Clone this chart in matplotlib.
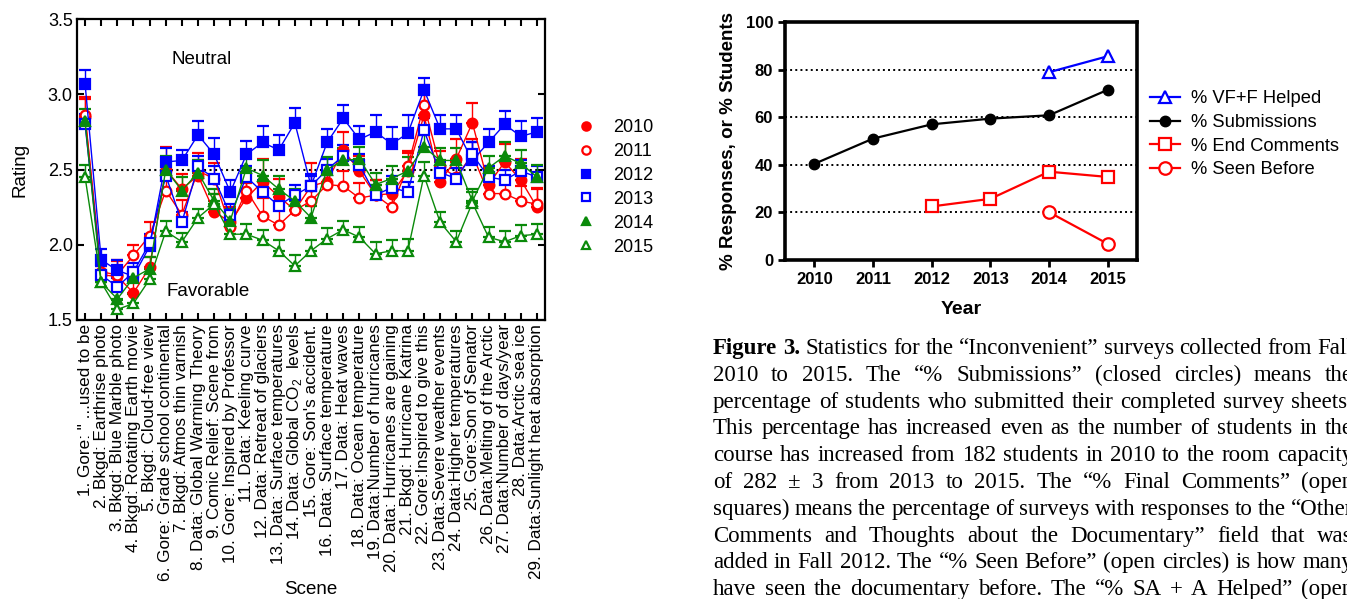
import numpy as np
import matplotlib
matplotlib.use("Agg")
import matplotlib.pyplot as plt
from matplotlib.lines import Line2D

plt.rcParams['font.family'] = ['Liberation Sans', 'DejaVu Sans']
plt.rcParams['mathtext.fontset'] = 'custom'
plt.rcParams['mathtext.rm'] = 'Liberation Sans'

W, H = 1347, 599

# ---- left panel: scene ratings by year ----
scenes = [
    '1. Gore: " ...used to be', '2. Bkgd: Earthrise photo', '3. Bkgd: Blue Marble photo',
    '4. Bkgd: Rotating Earth movie', '5. Bkgd: Cloud-free view', '6. Gore: Grade school continental',
    '7. Bkgd: Atmos thin varnish', '8. Data: Global Warming Theory', '9. Comic Relief: Scene from',
    '10. Gore: Inspired by Professor', '11. Data: Keeling curve', '12. Data: Retreat of glaciers',
    '13. Data: Surface temperatures', '14. Data: Global CO$_2$  levels', "15. Gore: Son's accident.",
    '16. Data: Surface temperature', '17. Data: Heat waves', '18. Data: Ocean temperature',
    '19. Data:Number of hurricanes', '20. Data: Hurricanes are gaining', '21. Bkgd: Hurricane Katrina',
    '22. Gore:Inspired to give this', '23. Data:Severe weather events', '24. Data:Higher temperatures',
    '25. Gore:Son of Senator', '26. Data:Melting of the Arctic', '27. Data:Number of days/year',
    '28. Data:Arctic sea ice', '29. Data:Sunlight heat absorption',
]

r2010 = [2.85, 1.80, 1.79, 1.68, 1.85, 2.50, 2.37, 2.46, 2.22, 2.15, 2.31, 2.42, 2.32, 2.23, 2.39,
         2.42, 2.63, 2.49, 2.33, 2.34, 2.49, 2.86, 2.42, 2.57, 2.81, 2.40, 2.55, 2.43, 2.25]
r2011 = [2.86, 1.82, 1.80, 1.93, 2.06, 2.36, 2.20, 2.49, 2.44, 2.12, 2.36, 2.19, 2.13, 2.23, 2.29,
         2.40, 2.39, 2.31, 2.33, 2.25, 2.52, 2.93, 2.52, 2.45, 2.60, 2.34, 2.34, 2.29, 2.27]
r2012 = [3.07, 1.90, 1.83, 1.79, 1.99, 2.55, 2.56, 2.73, 2.60, 2.35, 2.60, 2.68, 2.63, 2.81, 2.39,
         2.68, 2.84, 2.70, 2.75, 2.67, 2.74, 3.03, 2.77, 2.77, 2.56, 2.68, 2.80, 2.72, 2.75]
r2013 = [2.80, 1.80, 1.72, 1.82, 2.01, 2.46, 2.15, 2.52, 2.44, 2.20, 2.45, 2.35, 2.26, 2.33, 2.39,
         2.50, 2.59, 2.53, 2.33, 2.38, 2.35, 2.76, 2.48, 2.44, 2.60, 2.45, 2.43, 2.49, 2.45]
r2014 = [2.82, 1.75, 1.64, 1.78, 1.84, 2.50, 2.36, 2.48, 2.29, 2.16, 2.51, 2.46, 2.37, 2.29, 2.18,
         2.50, 2.56, 2.57, 2.40, 2.44, 2.49, 2.65, 2.56, 2.56, 2.29, 2.51, 2.59, 2.54, 2.45]
r2015 = [2.45, 1.75, 1.57, 1.61, 1.77, 2.09, 2.02, 2.18, 2.27, 2.07, 2.07, 2.03, 1.96, 1.86, 1.96,
         2.04, 2.10, 2.05, 1.94, 1.96, 1.96, 2.46, 2.15, 2.02, 2.28, 2.05, 2.02, 2.06, 2.07]

# upper error bars
e2010 = [0.13, 0.06, 0.10, 0.07, 0.07, 0.15, 0.10, 0.10, 0.12, 0.10, 0.10, 0.15, 0.12, 0.10, 0.15,
         0.10, 0.12, 0.10, 0.10, 0.10, 0.12, 0.20, 0.10, 0.13, 0.13, 0.12, 0.12, 0.14, 0.13]
e2011 = [0.11, 0.07, 0.10, 0.07, 0.09, 0.10, 0.10, 0.12, 0.10, 0.12, 0.10, 0.12, 0.10, 0.10, 0.10,
         0.10, 0.10, 0.10, 0.10, 0.10, 0.10, 0.12, 0.10, 0.10, 0.10, 0.10, 0.10, 0.10, 0.10]
e2012 = [0.09, 0.07, 0.07, 0.05, 0.05, 0.09, 0.07, 0.09, 0.11, 0.08, 0.09, 0.11, 0.10, 0.10, 0.08,
         0.09, 0.09, 0.09, 0.11, 0.11, 0.12, 0.08, 0.09, 0.09, 0.12, 0.09, 0.09, 0.10, 0.09]
e2013 = [0.07, 0.06, 0.06, 0.06, 0.06, 0.08, 0.07, 0.07, 0.08, 0.07, 0.07, 0.08, 0.08, 0.07, 0.07,
         0.07, 0.07, 0.07, 0.07, 0.08, 0.07, 0.08, 0.07, 0.07, 0.08, 0.07, 0.07, 0.07, 0.07]
e2014 = [0.08, 0.06, 0.07, 0.07, 0.08, 0.09, 0.09, 0.08, 0.08, 0.08, 0.08, 0.10, 0.09, 0.08, 0.08,
         0.08, 0.08, 0.08, 0.08, 0.08, 0.09, 0.08, 0.08, 0.08, 0.08, 0.08, 0.09, 0.09, 0.08]
e2015 = [0.08, 0.06, 0.06, 0.06, 0.07, 0.07, 0.06, 0.06, 0.07, 0.06, 0.07, 0.07, 0.07, 0.07, 0.07,
         0.07, 0.06, 0.07, 0.08, 0.07, 0.08, 0.09, 0.07, 0.07, 0.07, 0.07, 0.07, 0.07, 0.07]

RED, BLUE, GREEN = '#ff0000', '#0000ff', '#0a8a0a'
series = [
    ('2010', r2010, e2010, RED, 'o', True),
    ('2011', r2011, e2011, RED, 'o', False),
    ('2012', r2012, e2012, BLUE, 's', True),
    ('2013', r2013, e2013, BLUE, 's', False),
    ('2014', r2014, e2014, GREEN, '^', True),
    ('2015', r2015, e2015, GREEN, '^', False),
]

# ---- right panel: survey statistics ----
years = [2010, 2011, 2012, 2013, 2014, 2015]
submissions = [40.4, 51.0, 57.0, 59.4, 60.8, 71.5]
helped_years = [2014, 2015]
helped = [78.9, 85.6]
comment_years = [2012, 2013, 2014, 2015]
end_comments = [22.5, 25.7, 37.1, 34.9]
seen_years = [2014, 2015]
seen_before = [20.1, 6.8]

caption_lines = [
    "Figure 3. Statistics for the \u201cInconvenient\u201d surveys collected from Fall",
    "2010 to 2015. The \u201c% Submissions\u201d (closed circles) means the",
    "percentage of students who submitted their completed survey sheets.",
    "This percentage has increased even as the number of students in the",
    "course has increased from 182 students in 2010 to the room capacity",
    "of 282 \u00b1 3 from 2013 to 2015. The \u201c% Final Comments\u201d (open",
    "squares) means the percentage of surveys with responses to the \u201cOther",
    "Comments and Thoughts about the Documentary\u201d field that was",
    "added in Fall 2012. The \u201c% Seen Before\u201d (open circles) is how many",
    "have seen the documentary before. The \u201c% SA + A Helped\u201d (open",
]

fig = plt.figure(figsize=(W / 100, H / 100), dpi=100)


def px_box(x0, y0, x1, y1):
    return [x0 / W, 1 - y1 / H, (x1 - x0) / W, (y1 - y0) / H]


ax = fig.add_axes(px_box(77, 19, 545, 320))
x = np.arange(1, len(scenes) + 1)
handles = []
for name, vals, err, col, mk, filled in series:
    vals = np.array(vals)
    yerr = np.vstack([np.zeros(len(err)), err])
    ax.errorbar(x, vals, yerr=yerr, color=col, lw=1.0, elinewidth=1.0, capsize=4, capthick=1.0,
                marker=mk, ms=7, mec=col, mfc=col if filled else 'white', mew=1.6)
    handles.append(Line2D([], [], ls='none', marker=mk, ms=6, color=col, mec=col,
                          mfc=col if filled else 'white', mew=1.6, label=name))

ax.axhline(2.5, color='black', ls=':', lw=1.5, zorder=0)
ax.set_xlim(0.5, 29.5)
ax.set_ylim(1.5, 3.5)
ax.set_yticks([1.5, 2.0, 2.5, 3.0, 3.5])
ax.set_yticklabels(['1.5', '2.0', '2.5', '3.0', '3.5'], fontsize=13)
ax.set_xticks(x)
ax.set_xticklabels(scenes, rotation=90, fontsize=12.3)
ax.tick_params(direction='in', top=True, right=True, length=5, width=1.5, pad=3)
for s in ax.spines.values():
    s.set_linewidth(1.6)
ax.set_ylabel('Rating', fontsize=13.5, labelpad=14)
ax.set_xlabel('Scene', fontsize=13.5)
ax.xaxis.set_label_coords(0.5, (320 - 581) / 301)
ax.text(8.2, 3.23, 'Neutral', fontsize=13.5, ha='center', va='center')
ax.text(8.6, 1.69, 'Favorable', fontsize=13.5, ha='center', va='center')
fig.legend(handles=handles, loc='upper left', bbox_to_anchor=(570 / W, 1 - 112 / H), frameon=False,
           fontsize=13, handlelength=1.0, handletextpad=1.0, labelspacing=0.38, borderaxespad=0)

# right panel
ax2 = fig.add_axes(px_box(785, 22, 1137, 260))
for gy in [20, 40, 60, 80]:
    ax2.axhline(gy, color='black', ls=':', lw=1.4, zorder=0)
ax2.plot(helped_years, helped, color=BLUE, lw=1.6, marker='^', ms=8.5, mfc='white', mec=BLUE,
         mew=1.6, label='% VF+F Helped')
ax2.plot(years, submissions, color='black', lw=1.6, marker='o', ms=7.5, label='% Submissions')
ax2.plot(comment_years, end_comments, color=RED, lw=1.6, marker='s', ms=9, mfc='white', mec=RED,
         mew=1.6, label='% End Comments')
ax2.plot(seen_years, seen_before, color=RED, lw=1.6, marker='o', ms=9, mfc='white', mec=RED,
         mew=1.6, label='% Seen Before')
ax2.set_xlim(2009.5, 2015.5)
ax2.set_ylim(0, 100)
ax2.set_xticks(years)
ax2.set_yticks([0, 20, 40, 60, 80, 100])
ax2.tick_params(direction='out', length=5, width=2.0, labelsize=12)
for lab in ax2.get_xticklabels() + ax2.get_yticklabels():
    lab.set_fontweight('bold')
for s in ax2.spines.values():
    s.set_linewidth(2.6)
ax2.set_ylabel('% Responses, or % Students', fontsize=13.5, fontweight='bold', labelpad=6)
ax2.set_xlabel('Year', fontsize=14, fontweight='bold', labelpad=10)
ax2.legend(loc='upper left', bbox_to_anchor=(1143 / W, 1 - 83 / H), bbox_transform=fig.transFigure,
           frameon=False, fontsize=13.2, handlelength=1.6, handletextpad=0.6, labelspacing=0.36,
           borderaxespad=0)

# caption, justified word by word and running off the right edge
renderer = fig.canvas.get_renderer()
x_left, x_right = 713, 1353
for i, line in enumerate(caption_lines):
    yb = 1 - (354 + i * 26.8) / H
    words = line.split(' ')
    texts = []
    for j, wd in enumerate(words):
        bold = i == 0 and j < 2
        texts.append(fig.text(0, yb, wd, fontsize=16.5, family='Liberation Serif',
                              fontweight='bold' if bold else 'normal', va='baseline'))
    widths = [t.get_window_extent(renderer).width for t in texts]
    gap = (x_right - x_left - sum(widths)) / (len(words) - 1)
    xp = x_left
    for t, wd in zip(texts, widths):
        t.set_x(xp / W)
        xp += wd + gap

fig.savefig('out.png', dpi=100)
